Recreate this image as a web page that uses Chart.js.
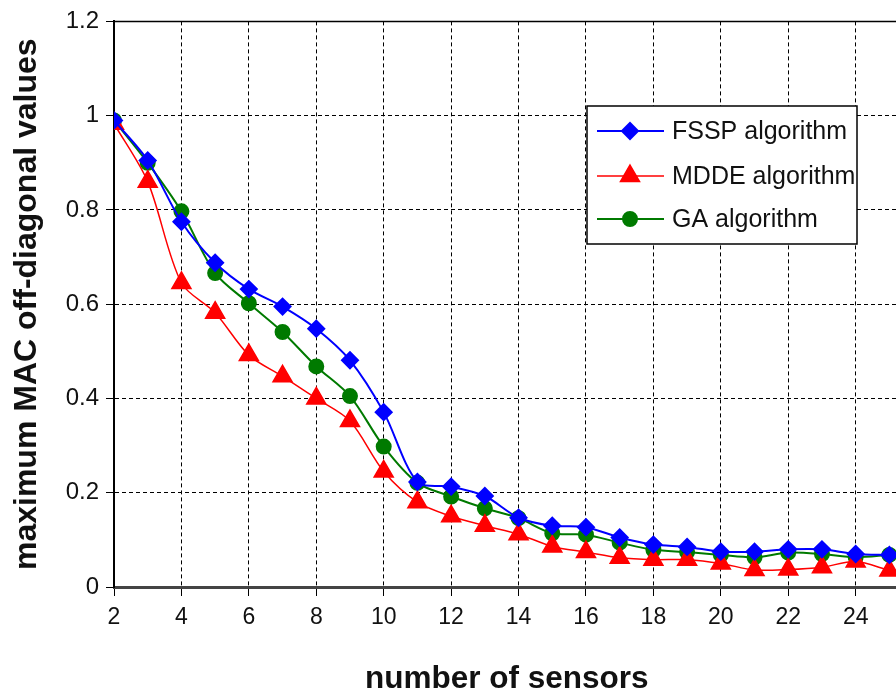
<!DOCTYPE html>
<html>
<head>
<meta charset="utf-8">
<script src="https://cdn.jsdelivr.net/npm/chart.js@4/dist/chart.umd.min.js"></script>
<style>
  html, body { margin: 0; padding: 0; background: #fff; overflow: hidden; }
  #wrap { width: 912px; height: 695px; }
</style>
</head>
<body>
<div id="wrap"><canvas id="macChart" width="912" height="695"></canvas></div>
<script>
const sensors = [2, 3, 4, 5, 6, 7, 8, 9, 10, 11, 12, 13, 14, 15, 16, 17, 18, 19, 20, 21, 22, 23, 24, 25];
const fssp = [0.99, 0.905, 0.775, 0.688, 0.632, 0.595, 0.548, 0.481, 0.371, 0.223, 0.213, 0.193, 0.147, 0.13, 0.127, 0.105, 0.09, 0.085, 0.075, 0.075, 0.08, 0.08, 0.07, 0.068];
const mdde = [0.983, 0.86, 0.645, 0.582, 0.492, 0.447, 0.40, 0.352, 0.245, 0.18, 0.15, 0.13, 0.112, 0.086, 0.074, 0.062, 0.058, 0.058, 0.05, 0.036, 0.037, 0.042, 0.054, 0.035];
const ga = [0.99, 0.90, 0.797, 0.666, 0.602, 0.541, 0.468, 0.405, 0.298, 0.221, 0.192, 0.167, 0.146, 0.114, 0.111, 0.094, 0.079, 0.074, 0.068, 0.063, 0.073, 0.07, 0.063, 0.068];
const xTicks = [2, 4, 6, 8, 10, 12, 14, 16, 18, 20, 22, 24];
const yTicks = [0, 0.2, 0.4, 0.6, 0.8, 1, 1.2];
const seriesNames = ["FSSP algorithm", "MDDE algorithm", "GA algorithm"];

const FONT = '"Liberation Sans", Arial, sans-serif';
Chart.defaults.font.family = FONT;
Chart.defaults.color = "#111";

const toPoints = vals => vals.map((v, i) => ({ x: sensors[i], y: v }));

// top frame line of the plot area
const topBorder = {
  id: "topBorder",
  afterDraw(chart) {
    const { ctx, chartArea } = chart;
    ctx.save();
    ctx.strokeStyle = "#000";
    ctx.lineWidth = 1.5;
    ctx.beginPath();
    ctx.moveTo(chartArea.left, chartArea.top);
    ctx.lineTo(chartArea.right, chartArea.top);
    ctx.stroke();
    ctx.restore();
  }
};

// boxed legend inside the plot
const boxLegend = {
  id: "boxLegend",
  afterDatasetsDraw(chart) {
    const { ctx } = chart;
    const bx = 587, by = 106, bw = 270, bh = 138;
    ctx.save();
    ctx.fillStyle = "#fff";
    ctx.fillRect(bx, by, bw, bh);
    ctx.strokeStyle = "#000";
    ctx.lineWidth = 1.5;
    ctx.strokeRect(bx, by, bw, bh);
    const rows = [131, 176, 219];
    chart.data.datasets.forEach((ds, i) => {
      const y = rows[i];
      ctx.strokeStyle = ds.borderColor;
      ctx.lineWidth = ds.borderWidth;
      ctx.beginPath();
      ctx.moveTo(597, y);
      ctx.lineTo(664, y);
      ctx.stroke();
      ctx.fillStyle = ds.pointBackgroundColor;
      ctx.strokeStyle = ds.borderColor;
      Chart.helpers.drawPoint(ctx, {
        pointStyle: ds.pointStyle,
        radius: ds.pointRadius,
        rotation: 0,
        borderWidth: 1
      }, 630, y);
      ctx.fillStyle = "#111";
      ctx.font = "25px " + FONT;
      ctx.textBaseline = "middle";
      ctx.textAlign = "left";
      ctx.fillText(seriesNames[i], 672, y + 1);
    });
    ctx.restore();
  }
};

new Chart(document.getElementById("macChart").getContext("2d"), {
  type: "line",
  data: {
    datasets: [
      {
        label: seriesNames[0],
        data: toPoints(fssp),
        borderColor: "#0000ff",
        pointBackgroundColor: "#0000ff",
        borderWidth: 2,
        pointStyle: "rectRot",
        pointRadius: 8,
        tension: 0.3
      },
      {
        label: seriesNames[1],
        data: toPoints(mdde),
        borderColor: "#ff0000",
        pointBackgroundColor: "#ff0000",
        borderWidth: 1.5,
        pointStyle: "triangle",
        pointRadius: 11,
        tension: 0.3
      },
      {
        label: seriesNames[2],
        data: toPoints(ga),
        borderColor: "#007a00",
        pointBackgroundColor: "#007a00",
        borderWidth: 2,
        pointStyle: "circle",
        pointRadius: 7,
        tension: 0.3
      }
    ]
  },
  options: {
    responsive: false,
    animation: false,
    layout: { padding: { top: 21, right: 2, bottom: 0, left: 0 } },
    plugins: {
      legend: { display: false },
      tooltip: { enabled: false }
    },
    scales: {
      x: {
        type: "linear",
        min: 2,
        max: 25.3,
        afterBuildTicks: axis => { axis.ticks = xTicks.map(v => ({ value: v })); },
        afterFit: axis => { axis.height = 108; },
        ticks: { font: { size: 23 }, padding: 8, maxRotation: 0, callback: v => String(v) },
        grid: { color: "#000", lineWidth: 1, tickLength: 9, tickColor: "#000", tickBorderDash: [] },
        border: { display: true, color: "#444", width: 3, dash: [4, 3] },
        title: {
          display: true,
          text: "number of sensors",
          font: { size: 31.5, weight: "bold", lineHeight: 1 },
          color: "#111",
          padding: { top: 0, bottom: 0 }
        }
      },
      y: {
        min: 0,
        max: 1.2,
        afterBuildTicks: axis => { axis.ticks = yTicks.map(v => ({ value: v })); },
        afterFit: axis => { axis.width = 114; },
        ticks: { font: { size: 24 }, padding: 7, callback: v => String(v) },
        grid: { color: "#000", lineWidth: 1, tickLength: 8, tickColor: "#000", tickBorderDash: [] },
        border: { display: true, color: "#000", width: 2, dash: [4, 3] },
        title: {
          display: true,
          text: "maximum MAC off-diagonal values",
          font: { size: 32, weight: "bold", lineHeight: 1 },
          color: "#111",
          padding: { top: 11, bottom: 0 }
        }
      }
    }
  },
  plugins: [topBorder, boxLegend]
});
</script>
</body>
</html>
